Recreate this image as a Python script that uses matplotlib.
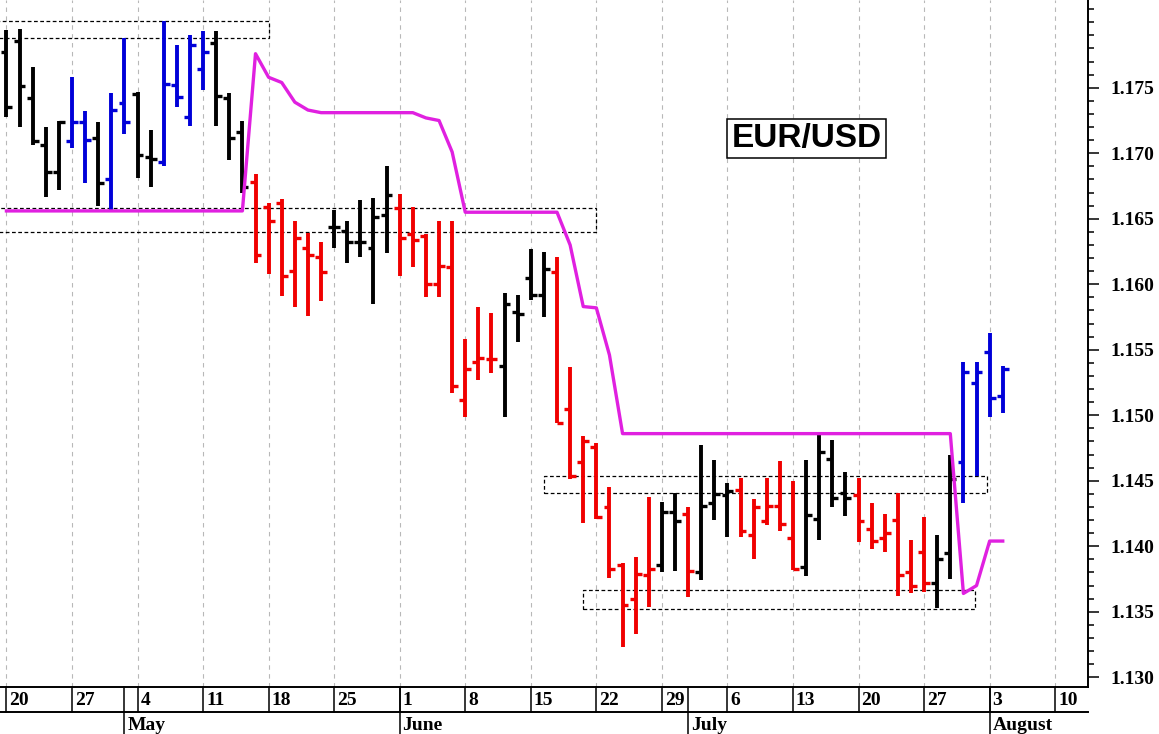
import numpy as np
import matplotlib.pyplot as plt
from matplotlib.patches import Rectangle
from matplotlib import transforms

# EUR/USD daily bars, Apr 20 .. Aug 4 (trading days only)
opens = [1.1777, 1.1786, 1.1742, 1.1706, 1.1686, 1.1709, 1.1724, 1.1712, 1.1680, 1.1738,
         1.1745, 1.1697, 1.1693, 1.1752, 1.1728, 1.1764, 1.1784, 1.1742, 1.1716, 1.1678,
         1.1659, 1.1662, 1.1610, 1.1628, 1.1621, 1.1644, 1.1641, 1.1632, 1.1628, 1.1653,
         1.1658, 1.1638, 1.1637, 1.1600, 1.1613, 1.1512, 1.1541, 1.1543, 1.1538, 1.1579,
         1.1605, 1.1592, 1.1609, 1.1505, 1.1464, 1.1476, 1.1430, 1.1386, 1.1360, 1.1378,
         1.1386, 1.1426, 1.1425, 1.1380, 1.1433, 1.1439, 1.1443, 1.1409, 1.1419, 1.1431,
         1.1406, 1.1384, 1.1421, 1.1467, 1.1441, 1.1439, 1.1413, 1.1406, 1.1420, 1.1380,
         1.1396, 1.1372, 1.1395, 1.1464, 1.1525, 1.1548, 1.1515]
highs = [1.1794, 1.1795, 1.1766, 1.1720, 1.1725, 1.1758, 1.1732, 1.1724, 1.1746, 1.1788,
         1.1747, 1.1718, 1.1801, 1.1783, 1.1790, 1.1793, 1.1793, 1.1746, 1.1725, 1.1684,
         1.1662, 1.1665, 1.1648, 1.1639, 1.1632, 1.1657, 1.1648, 1.1664, 1.1666, 1.1690,
         1.1669, 1.1659, 1.1638, 1.1648, 1.1648, 1.1558, 1.1583, 1.1578, 1.1593, 1.1592,
         1.1627, 1.1625, 1.1621, 1.1537, 1.1484, 1.1479, 1.1445, 1.1387, 1.1392, 1.1438,
         1.1434, 1.1441, 1.1430, 1.1477, 1.1466, 1.1448, 1.1452, 1.1436, 1.1452, 1.1465,
         1.1450, 1.1466, 1.1485, 1.1481, 1.1457, 1.1452, 1.1433, 1.1425, 1.1441, 1.1405,
         1.1422, 1.1409, 1.1470, 1.1541, 1.1541, 1.1563, 1.1538]
lows = [1.1728, 1.1720, 1.1706, 1.1667, 1.1672, 1.1704, 1.1677, 1.1660, 1.1655, 1.1715,
        1.1681, 1.1674, 1.1690, 1.1735, 1.1721, 1.1748, 1.1721, 1.1695, 1.1670, 1.1616,
        1.1608, 1.1591, 1.1583, 1.1576, 1.1587, 1.1628, 1.1616, 1.1621, 1.1585, 1.1624,
        1.1606, 1.1613, 1.1590, 1.1590, 1.1517, 1.1499, 1.1527, 1.1532, 1.1499, 1.1556,
        1.1588, 1.1575, 1.1494, 1.1451, 1.1418, 1.1421, 1.1376, 1.1323, 1.1333, 1.1354,
        1.1380, 1.1381, 1.1361, 1.1374, 1.1420, 1.1407, 1.1407, 1.1390, 1.1416, 1.1412,
        1.1382, 1.1377, 1.1405, 1.1430, 1.1423, 1.1403, 1.1398, 1.1396, 1.1362, 1.1364,
        1.1365, 1.1353, 1.1375, 1.1433, 1.1454, 1.1499, 1.1502]
closes = [1.1735, 1.1751, 1.1709, 1.1686, 1.1724, 1.1724, 1.1710, 1.1677, 1.1733, 1.1724,
          1.1699, 1.1696, 1.1753, 1.1743, 1.1783, 1.1777, 1.1744, 1.1712, 1.1674, 1.1622,
          1.1648, 1.1606, 1.1635, 1.1622, 1.1609, 1.1644, 1.1632, 1.1632, 1.1651, 1.1668,
          1.1635, 1.1634, 1.1600, 1.1614, 1.1522, 1.1535, 1.1544, 1.1543, 1.1585, 1.1577,
          1.1592, 1.1612, 1.1494, 1.1454, 1.1480, 1.1422, 1.1383, 1.1355, 1.1379, 1.1383,
          1.1426, 1.1419, 1.1381, 1.1431, 1.1440, 1.1442, 1.1412, 1.1430, 1.1431, 1.1417,
          1.1383, 1.1424, 1.1472, 1.1437, 1.1437, 1.1419, 1.1404, 1.1410, 1.1378, 1.1370,
          1.1372, 1.1390, 1.1451, 1.1533, 1.1533, 1.1513, 1.1535]
# bar state: k neutral, r down, b up
state = ("kkkkk" + "bbkbbkkbbbbkkk" + "rrrrrr" + "kkkkk" + "rrrrrrrr" + "kkkk"
         + "rrrrrrrr" + "kkrkkk" + "rrrrr" + "kkkk" + "rrrrrr" + "kk" + "bbbb")
# magenta stop line
stop = [1.1656, 1.1656, 1.1656, 1.1656, 1.1656, 1.1656, 1.1656, 1.1656, 1.1656, 1.1656,
        1.1656, 1.1656, 1.1656, 1.1656, 1.1656, 1.1656, 1.1656, 1.1656, 1.1656, 1.1776,
        1.1758, 1.1754, 1.1739, 1.1733, 1.1731, 1.1731, 1.1731, 1.1731, 1.1731, 1.1731,
        1.1731, 1.1731, 1.1727, 1.1725, 1.1701, 1.1655, 1.1655, 1.1655, 1.1655, 1.1655,
        1.1655, 1.1655, 1.1655, 1.1630, 1.1583, 1.1582, 1.1546, 1.1486, 1.1486, 1.1486,
        1.1486, 1.1486, 1.1486, 1.1486, 1.1486, 1.1486, 1.1486, 1.1486, 1.1486, 1.1486,
        1.1486, 1.1486, 1.1486, 1.1486, 1.1486, 1.1486, 1.1486, 1.1486, 1.1486, 1.1486,
        1.1486, 1.1486, 1.1486, 1.1364, 1.1370, 1.1404, 1.1404]

# dotted zones: (start bar, end bar, low, high)
zones = [(-2, 20, 1.1788, 1.1801),
         (-2, 45, 1.1640, 1.1658),
         (41, 74.8, 1.1441, 1.1454),
         (44, 73.85, 1.1352, 1.1367)]

week_labels = ["20", "27", "4", "11", "18", "25", "1", "8", "15", "22", "29",
               "6", "13", "20", "27", "3", "10"]
week_pos = [0, 5, 10, 15, 20, 25, 30, 35, 40, 45, 50, 55, 60, 65, 70, 75, 80]
month_labels = ["May", "June", "July", "August"]
month_pos = [9, 30, 52, 75]

colors = {"k": "black", "r": "#f00000", "b": "#0000d8"}
serif = "Liberation Serif"

fig = plt.figure(figsize=(11.59, 7.34), dpi=100)
ax = fig.add_axes([0, 0.0644, 0.9387, 0.9356])
ax.set_xlim(-0.49, 82.5)
ax.set_ylim(1.12928, 1.18170)

for w in week_pos:
    ax.axvline(w, color="#b8b8b8", lw=0.8, ls=(0, (4, 4)), zorder=0)

for x0, x1, lo, hi in zones:
    ax.add_patch(Rectangle((x0, lo), x1 - x0, hi - lo, fill=False, ec="black",
                           lw=0.9, ls=(0, (3, 2)), zorder=1))

ax.plot(np.arange(len(stop)), stop, color="#e020e0", lw=2.4, zorder=3)

for i in range(len(opens)):
    c = colors[state[i]]
    ax.plot([i, i], [lows[i], highs[i]], color=c, lw=2.8, solid_capstyle="butt", zorder=2)
    ax.plot([i - 0.45, i], [opens[i], opens[i]], color=c, lw=2.4, solid_capstyle="butt", zorder=2)
    ax.plot([i, i + 0.45], [closes[i], closes[i]], color=c, lw=2.4, solid_capstyle="butt", zorder=2)

# axes styling
for s in ["top", "left"]:
    ax.spines[s].set_visible(False)
for s in ["right", "bottom"]:
    ax.spines[s].set_linewidth(1.4)
ax.set_xticks([])
ax.yaxis.tick_right()
ax.set_yticks(np.arange(1.130, 1.1751, 0.005))
ax.set_yticks(np.arange(1.130, 1.1815, 0.001), minor=True)
ax.set_yticklabels([f"{v:.3f}" for v in np.arange(1.130, 1.1751, 0.005)],
                   fontfamily=serif, fontweight="bold", fontsize=14)
ax.tick_params(axis="y", which="major", length=8, width=1.1, pad=8)
ax.tick_params(axis="y", which="minor", length=4, width=1.1)

# date rows under the plot
trans = transforms.blended_transform_factory(ax.transData, ax.transAxes)
row1 = -0.0368
row2 = -0.0689
ax.plot([-0.49, 82.5], [row1, row1], transform=trans, clip_on=False, color="black", lw=1.4)
for w, lbl in zip(week_pos, week_labels):
    ax.plot([w, w], [0, row1], transform=trans, clip_on=False, color="black", lw=1.1)
    ax.text(w + 0.22, -0.0266, lbl, transform=trans, ha="left", va="baseline",
            fontsize=14, fontweight="bold", fontfamily=serif)
for m, lbl in zip(month_pos, month_labels):
    ax.plot([m, m], [0, row2], transform=trans, clip_on=False, color="black", lw=1.1)
    ax.text(m + 0.22, -0.0623, lbl, transform=trans, ha="left", va="baseline",
            fontsize=14, fontweight="bold", fontfamily=serif)

fig.text(0.6959, 0.8113, "EUR/USD", fontsize=24, fontweight="bold",
         fontfamily="Liberation Sans", ha="center", va="center",
         bbox=dict(boxstyle="square,pad=0.12", fc="white", ec="black", lw=1.1))

fig.savefig("out.png", dpi=100)
